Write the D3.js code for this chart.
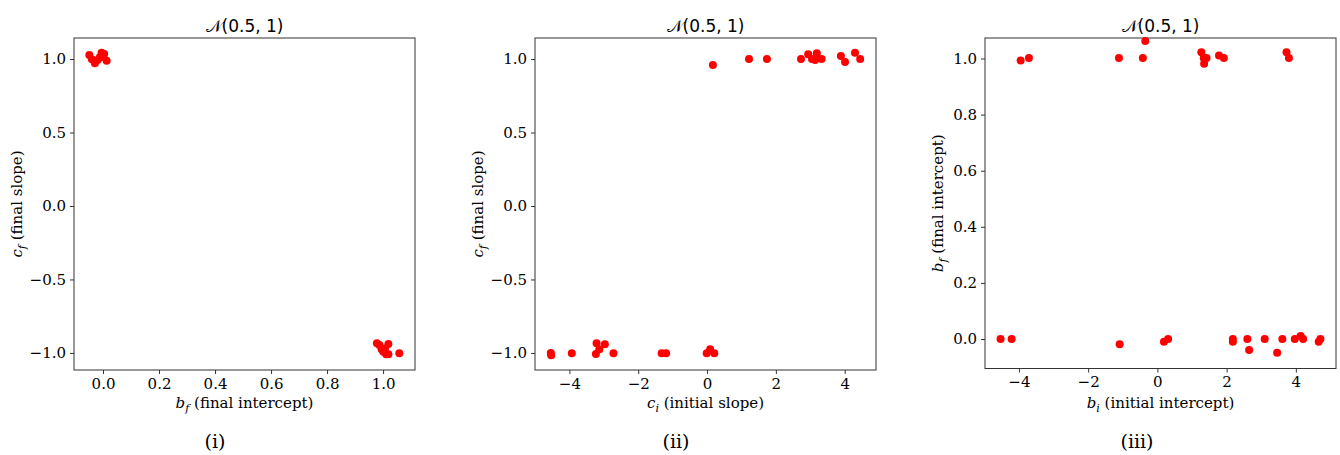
<!DOCTYPE html>
<html lang="en">
<head>
  <meta charset="UTF-8">
  <title>Document</title>
  <style>
    body {
      margin: 0;
      background: #fff;
    }
    svg text {
      fill: #000;
    }
    .tick text {
      font-family: 'DejaVu Serif', serif;
      font-size: 15px;
    }
    .title {
      font-family: 'DejaVu Sans', sans-serif;
      font-size: 17px;
    }
    .lab {
      font-family: 'DejaVu Serif', serif;
      font-size: 15px;
    }
    .sub {
      font-family: 'DejaVu Serif', serif;
      font-size: 19px;
    }
  </style>
</head>
<body>
  <svg></svg>
</body>
<script src="https://cdn.jsdelivr.net/npm/d3@7"></script>
<script>
  var width = 1340
  var height = 455

  // (i) final intercept vs final slope
  var p1X = [-0.049, -0.040, -0.029, -0.019, -0.005, 0.004, 0.001, 0.013, -0.011,
             0.978, 0.987, 1.019, 0.995, 1.001, 1.011, 1.019, 1.058, 1.007]
  var p1Y = [1.027, 0.998, 0.971, 0.993, 1.043, 1.034, 1.014, 0.988, 1.014,
             -0.934, -0.946, -0.939, -0.975, -0.991, -1.009, -1.009, -1.002, -0.969]

  // (ii) initial slope vs final slope
  var p2X = [0.17, 1.22, 1.74, 2.73, 2.94, 3.19, 3.14, 3.33, 3.05, 3.89, 4.01, 4.30, 4.45,
             -4.54, -4.53, -3.93, -3.21, -2.97, -3.13, -3.23, -2.72, -1.32, -1.19, -0.01, 0.09, 0.21]
  var p2Y = [0.959, 1.0, 1.0, 1.0, 1.032, 1.039, 0.993, 1.0, 1.0, 1.02, 0.98, 1.042, 1.0,
             -1.0, -1.015, -1.002, -0.934, -0.941, -0.975, -1.007, -1.002, -1.002, -1.002, -1.002, -0.975, -1.002]

  // (iii) initial intercept vs final intercept
  var p3X = [-3.95, -3.71, -1.11, -0.42, -0.35, 1.27, 1.34, 1.42, 1.35, 1.78, 1.92, 3.73, 3.80,
             -4.53, -4.21, -1.09, 0.19, 0.31, 2.18, 2.18, 2.60, 2.65, 3.10, 3.46, 3.61, 3.97, 4.14, 4.21, 4.66, 4.71]
  var p3Y = [0.993, 1.002, 1.002, 1.002, 1.062, 1.022, 1.002, 1.002, 0.981, 1.011, 1.002, 1.022, 1.002,
             0.0, 0.0, -0.019, -0.01, 0.0, 0.0, -0.01, 0.0, -0.039, 0.0, -0.049, 0.0, 0.0, 0.011, 0.0, -0.01, 0.0]

  var titleText = '\u{1D4A9}(0.5, 1)'
  var subLabels = ['(i)', '(ii)', '(iii)']
  var subLabelX = [215, 676, 1137]

  var panels = [
    {
      box: [74, 38, 415, 370], xs: p1X, ys: p1Y,
      xDom: [-0.1036, 1.114], yDom: [-1.116, 1.143],
      xTicks: [0, 0.2, 0.4, 0.6, 0.8, 1.0], xFmt: d3.format('.1f'),
      yTicks: [-1, -0.5, 0, 0.5, 1], yFmt: d3.format('.1f'),
      xLab: ['b', 'f', ' (final intercept)'], yLab: ['c', 'f', ' (final slope)'], yLabX: 22
    },
    {
      box: [535, 38, 876, 370], xs: p2X, ys: p2Y,
      xDom: [-5.0, 4.91], yDom: [-1.116, 1.143],
      xTicks: [-4, -2, 0, 2, 4], xFmt: d3.format('d'),
      yTicks: [-1, -0.5, 0, 0.5, 1], yFmt: d3.format('.1f'),
      xLab: ['c', 'i', ' (initial slope)'], yLab: ['c', 'f', ' (final slope)'], yLabX: 483
    },
    {
      box: [985, 38, 1336, 368.5], xs: p3X, ys: p3Y,
      xDom: [-4.98, 5.16], yDom: [-0.105, 1.073],
      xTicks: [-4, -2, 0, 2, 4], xFmt: d3.format('d'),
      yTicks: [0, 0.2, 0.4, 0.6, 0.8, 1.0], yFmt: d3.format('.1f'),
      xLab: ['b', 'i', ' (initial intercept)'], yLab: ['b', 'f', ' (final intercept)'], yLabX: 943
    }
  ]

  var svg = d3.select('svg')
    .attr('width', width)
    .attr('height', height)

  function addLabel(sel, parts) {
    sel.append('tspan').attr('font-style', 'italic').text(parts[0])
    sel.append('tspan').attr('font-style', 'italic').attr('font-size', '11px').attr('dy', 4).text(parts[1])
    sel.append('tspan').attr('dy', -4).text(parts[2])
  }

  panels.forEach((p, i) => {
    var [x0, y0, x1, y1] = p.box
    var x = d3.scaleLinear().domain(p.xDom).range([x0, x1])
    var y = d3.scaleLinear().domain(p.yDom).range([y1, y0])
    var g = svg.append('g')

    g.append('g')
      .attr('transform', `translate(0,${y1})`)
      .call(d3.axisBottom(x).tickValues(p.xTicks).tickFormat(p.xFmt).tickSize(4).tickPadding(4))
    g.append('g')
      .attr('transform', `translate(${x0},0)`)
      .call(d3.axisLeft(y).tickValues(p.yTicks).tickFormat(p.yFmt).tickSize(4).tickPadding(4))
    g.selectAll('.domain').remove()
    g.selectAll('.tick line').attr('stroke', '#333')

    g.append('rect')
      .attr('x', x0).attr('y', y0)
      .attr('width', x1 - x0).attr('height', y1 - y0)
      .attr('fill', 'none').attr('stroke', '#333').attr('stroke-width', 1)

    g.selectAll('circle')
      .data(p.xs.map((d, k) => [d, p.ys[k]]))
      .enter()
      .append('circle')
      .attr('cx', d => x(d[0]))
      .attr('cy', d => y(d[1]))
      .attr('r', 4)
      .attr('fill', 'red')

    var cx = (x0 + x1) / 2
    g.append('text').attr('class', 'title')
      .attr('x', cx).attr('y', 32).attr('text-anchor', 'middle')
      .text(titleText)

    g.append('text').attr('class', 'lab')
      .attr('x', cx).attr('y', 408).attr('text-anchor', 'middle')
      .call(addLabel, p.xLab)

    g.append('text').attr('class', 'lab')
      .attr('transform', `translate(${p.yLabX},${(y0 + y1) / 2}) rotate(-90)`)
      .attr('text-anchor', 'middle')
      .call(addLabel, p.yLab)

    g.append('text').attr('class', 'sub')
      .attr('x', subLabelX[i]).attr('y', 448).attr('text-anchor', 'middle')
      .text(subLabels[i])
  })
</script>
</html>
